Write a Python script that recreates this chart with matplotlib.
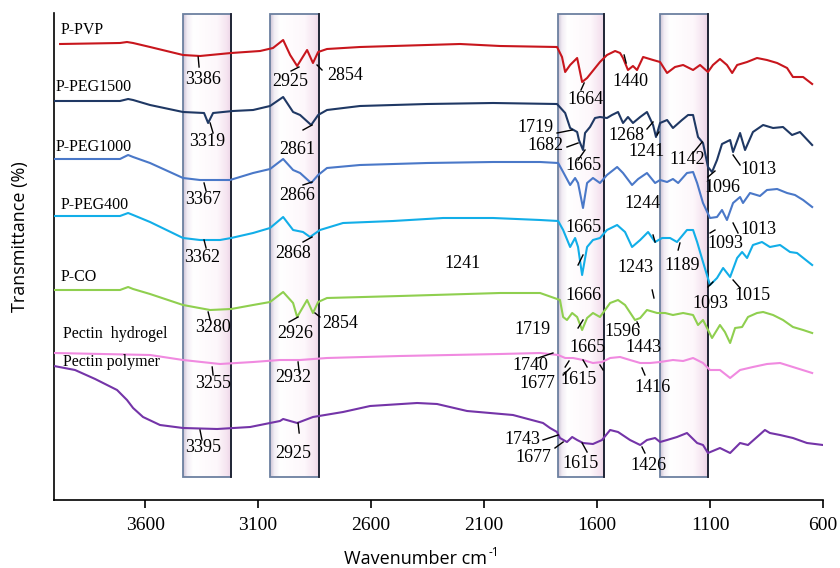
import numpy as np
import matplotlib
matplotlib.use("Agg")
import matplotlib.pyplot as plt
from matplotlib.colors import LinearSegmentedColormap
from matplotlib.patches import Rectangle

SERIF = 'Liberation Serif'
SANS = 'Open Sans'

# FTIR spectra (wavenumber cm-1, transmittance in arbitrary stacked units)
pvp_wn = [3976, 3711, 3680, 3653, 3578, 3432, 3357, 3219, 3091, 3034, 2989, 2958, 2927, 2883, 2857,
          2834, 2795, 2649, 2206, 2029, 1777, 1755, 1741, 1719, 1688, 1666, 1644, 1587, 1556, 1520,
          1498, 1485, 1463, 1441, 1423, 1396, 1352, 1321, 1290, 1255, 1219, 1175, 1144, 1109, 1087,
          1056, 1025, 1002, 980, 936, 892, 848, 803, 759, 733, 688, 648]
pvp_t = [456, 457, 458, 457, 453, 445, 444, 447, 449, 452, 460, 445, 434, 450, 437,
         448, 451, 453, 456, 454, 453, 443, 428, 435, 442, 418, 422, 438, 445, 449,
         447, 442, 430, 434, 430, 443, 440, 438, 427, 433, 435, 430, 435, 428, 435,
         441, 435, 427, 435, 438, 442, 440, 437, 432, 423, 423, 416]

peg1500_wn = [4003, 3711, 3675, 3653, 3578, 3432, 3339, 3321, 3299, 3211, 3122, 3047, 2989, 2945, 2914,
              2865, 2834, 2795, 2649, 2352, 2060, 1777, 1741, 1719, 1688, 1680, 1662, 1653, 1631, 1609,
              1587, 1556, 1534, 1507, 1485, 1463, 1441, 1409, 1379, 1352, 1339, 1321, 1290, 1264, 1224,
              1197, 1175, 1153, 1131, 1109, 1091, 1069, 1047, 1011, 998, 967, 945, 910, 865, 821,
              777, 737, 702, 648]
peg1500_t = [399, 399, 401, 400, 395, 388, 387, 377, 387, 389, 390, 394, 403, 388, 385,
             375, 385, 390, 394, 396, 397, 396, 387, 372, 368, 360, 350, 367, 373, 382,
             383, 382, 385, 388, 377, 383, 377, 383, 388, 375, 363, 377, 380, 372, 380,
             385, 385, 363, 357, 333, 328, 340, 356, 360, 348, 367, 350, 368, 375, 372,
             373, 365, 368, 355]

peg1000_wn = [4003, 3711, 3675, 3653, 3578, 3432, 3357, 3224, 3122, 3047, 2989, 2945, 2914, 2865, 2834,
              2795, 2649, 2352, 2060, 1852, 1772, 1750, 1719, 1697, 1684, 1662, 1644, 1618, 1587, 1556,
              1511, 1485, 1445, 1418, 1379, 1343, 1321, 1290, 1264, 1241, 1202, 1175, 1157, 1131, 1100,
              1069, 1047, 1025, 998, 967, 954, 923, 879, 848, 803, 759, 724, 688, 648]
peg1000_t = [341, 341, 345, 343, 337, 322, 320, 320, 327, 331, 341, 330, 327, 317, 325,
             332, 335, 337, 338, 338, 337, 328, 315, 322, 317, 292, 317, 322, 317, 325,
             333, 327, 315, 321, 327, 317, 320, 318, 321, 317, 327, 328, 317, 297, 282,
             283, 290, 280, 297, 303, 297, 307, 304, 310, 311, 307, 305, 300, 293]

peg400_wn = [4003, 3711, 3675, 3653, 3578, 3432, 3357, 3268, 3219, 3122, 3047, 2989, 2945, 2901, 2870,
             2826, 2724, 2503, 2281, 2060, 1852, 1772, 1750, 1719, 1697, 1684, 1666, 1644, 1618, 1587,
             1556, 1511, 1476, 1445, 1409, 1374, 1343, 1312, 1277, 1246, 1202, 1175, 1157, 1131, 1100,
             1069, 1042, 1011, 980, 958, 936, 910, 870, 835, 790, 746, 715, 648]
peg400_t = [284, 284, 287, 285, 278, 262, 260, 260, 262, 267, 272, 283, 270, 268, 263,
            270, 277, 279, 282, 282, 280, 279, 270, 253, 262, 253, 225, 253, 260, 262,
            270, 275, 268, 253, 260, 268, 258, 262, 262, 258, 270, 270, 258, 238, 215,
            222, 232, 223, 242, 248, 242, 255, 258, 253, 255, 248, 247, 235]

co_wn = [4003, 3711, 3675, 3653, 3578, 3432, 3312, 3219, 3122, 3047, 2989, 2945, 2927, 2883, 2857,
         2834, 2795, 2472, 2029, 1852, 1764, 1750, 1733, 1710, 1688, 1666, 1644, 1618, 1587, 1542,
         1507, 1476, 1432, 1409, 1379, 1334, 1299, 1264, 1219, 1175, 1153, 1131, 1091, 1056, 1034,
         1011, 989, 958, 932, 892, 865, 821, 777, 733, 688, 648]
co_t = [210, 210, 213, 211, 206, 195, 190, 191, 195, 198, 208, 197, 183, 200, 187,
        198, 202, 204, 207, 207, 200, 183, 180, 187, 183, 170, 182, 187, 183, 197,
        200, 195, 180, 182, 190, 187, 187, 185, 187, 185, 175, 180, 162, 175, 168,
        157, 172, 173, 183, 187, 188, 185, 180, 173, 170, 167]

hyd_wn = [4003, 3578, 3432, 3268, 3122, 3003, 2914, 2795, 2472, 2029, 1852, 1772, 1741, 1706, 1662,
          1618, 1578, 1542, 1498, 1454, 1409, 1365, 1321, 1264, 1219, 1175, 1131, 1100, 1056, 1011,
          967, 910, 848, 790, 733, 648]
hyd_t = [147, 145, 140, 136, 138, 140, 140, 142, 144, 146, 147, 145, 142, 142, 140,
         137, 138, 142, 143, 140, 137, 137, 138, 140, 139, 142, 137, 130, 130, 122,
         130, 133, 136, 137, 133, 127]

pol_wn = [4003, 3910, 3821, 3724, 3680, 3653, 3609, 3534, 3432, 3281, 3135, 3003, 2989, 2927, 2857,
          2724, 2604, 2396, 2308, 2175, 1972, 1839, 1808, 1777, 1764, 1733, 1710, 1688, 1662, 1618,
          1578, 1542, 1507, 1454, 1409, 1379, 1343, 1321, 1290, 1246, 1202, 1157, 1131, 1109, 1056,
          1011, 967, 932, 892, 857, 835, 790, 733, 671, 600]
pol_t = [134, 130, 121, 110, 100, 92, 83, 75, 72, 71, 73, 79, 81, 77, 83,
         88, 94, 97, 96, 89, 85, 77, 72, 68, 62, 58, 63, 60, 57, 56,
         60, 70, 68, 60, 55, 60, 62, 58, 60, 63, 67, 57, 55, 47, 52,
         47, 57, 55, 63, 70, 67, 65, 62, 57, 55]

series = [
    ('P-PVP', pvp_wn, pvp_t, '#c8161d', (3976, 470)),
    ('P-PEG1500', peg1500_wn, peg1500_t, '#1f3864', (3998, 413)),
    ('P-PEG1000', peg1000_wn, peg1000_t, '#4a78c8', (3998, 353)),
    ('P-PEG400', peg400_wn, peg400_t, '#12aee8', (3976, 295)),
    ('P-CO', co_wn, co_t, '#8fcf4f', (3976, 223)),
    ('Pectin  hydrogel', hyd_wn, hyd_t, '#f08ae0', (3963, 166)),
    ('Pectin polymer', pol_wn, pol_t, '#7434a8', (3963, 138)),
]

# highlighted bands (high, low wavenumber)
bands = [(3432, 3219), (3047, 2830), (1773, 1569), (1321, 1109)]

# peak labels: text, text position, leader line (w1, t1, w2, t2)
peaks = [
    ('3386', 3343, 421, (3365, 443, 3361, 433)),
    ('2925', 2958, 419, (2954, 429, 2919, 433)),
    ('2854', 2715, 424, (2839, 435, 2817, 430)),
    ('1664', 1653, 401, (1671, 410, 1657, 417)),
    ('1440', 1454, 419, (1480, 445, 1471, 437)),
    ('3319', 3326, 358, (3312, 377, 3299, 367)),
    ('2861', 2927, 350, (2901, 370, 2861, 375)),
    ('1719', 1874, 372, (1777, 367, 1710, 370)),
    ('1682', 1830, 355, (1733, 353, 1684, 357)),
    ('1665', 1662, 334, (1684, 340, 1653, 350)),
    ('1268', 1472, 364, (1379, 371, 1352, 378)),
    ('1241', 1379, 348, (1334, 365, 1326, 368)),
    ('1142', 1202, 341, (1175, 347, 1135, 358)),
    ('1096', 1047, 312, (1109, 323, 1078, 329)),
    ('1013', 887, 331, (998, 345, 967, 335)),
    ('3367', 3343, 300, (3339, 317, 3330, 309)),
    ('2866', 2927, 304, (2901, 315, 2861, 318)),
    ('1244', 1401, 297, None),
    ('1093', 1034, 257, (1100, 267, 1078, 270)),
    ('1013', 887, 270, (998, 277, 976, 267)),
    ('3362', 3348, 242, (3339, 260, 3330, 252)),
    ('2868', 2945, 247, (2901, 258, 2861, 263)),
    ('1665', 1662, 272, (1684, 235, 1662, 245)),
    ('1243', 1432, 233, (1352, 265, 1343, 258)),
    ('1189', 1224, 235, (1241, 250, 1233, 257)),
    ('1093', 1100, 197, (1109, 213, 1087, 218)),
    ('1015', 910, 205, (998, 220, 967, 212)),
    ('1241', 2197, 237, (1356, 210, 1348, 202)),
    ('3280', 3299, 172, (3321, 188, 3312, 180)),
    ('2926', 2936, 167, (2963, 178, 2923, 183)),
    ('2854', 2737, 177, (2848, 187, 2826, 183)),
    ('1666', 1662, 205, (1684, 172, 1662, 180)),
    ('1596', 1489, 168, (1423, 178, 1414, 173)),
    ('1443', 1396, 152, (1587, 135, 1573, 130)),
    ('1719', 1887, 171, None),
    ('1665', 1644, 153, (1662, 140, 1644, 133)),
    ('3255', 3299, 117, (3303, 133, 3299, 125)),
    ('2932', 2945, 123, (2923, 138, 2918, 128)),
    ('1740', 1896, 134, (1861, 142, 1795, 147)),
    ('1677', 1865, 117, (1750, 125, 1719, 132)),
    ('1615', 1684, 120, (1741, 133, 1724, 139)),
    ('1416', 1356, 112, (1401, 132, 1388, 125)),
    ('3395', 3343, 52, (3357, 70, 3348, 60)),
    ('2925', 2945, 47, (2923, 77, 2918, 67)),
    ('1743', 1932, 61, (1839, 60, 1772, 65)),
    ('1677', 1883, 42, (1786, 52, 1750, 58)),
    ('1615', 1675, 37, (1666, 57, 1644, 48)),
    ('1426', 1374, 34, (1401, 53, 1388, 47)),
]

xticks = [3600, 3100, 2600, 2100, 1600, 1100, 600]

fig = plt.figure(figsize=(8.4, 5.68), dpi=100)
ax = fig.add_axes([54 / 840, 1 - 500 / 568, (823 - 54) / 840, (500 - 13) / 568])

# bevelled highlight boxes
bevel = LinearSegmentedColormap.from_list('bevel', [(0, '#cdc4d6'), (0.08, '#f2edf4'), (0.2, '#ffffff'),
                                                    (0.7, '#fdf7fb'), (0.9, '#f5e4f0'), (1, '#ebd3e5')])
grad = np.linspace(0, 1, 64).reshape(1, -1)
for hi, lo in bands:
    ax.imshow(grad, cmap=bevel, extent=(hi, lo, 23, 486), aspect='auto', zorder=1)
    ax.add_patch(Rectangle((lo, 23), hi - lo, 463, fill=False, edgecolor='#6c80a0', lw=1.3, zorder=2))
    ax.plot([lo, lo], [23, 486], color='#1c1f2e', lw=1.3, zorder=2)

for name, wn, t, col, (lx, ly) in series:
    ax.plot(wn, t, color=col, lw=1.5, zorder=3)
    ax.text(lx, ly, name, family=SERIF, fontsize=11.5, ha='left', va='center', zorder=4)

for lab, tx, ty, seg in peaks:
    ax.text(tx, ty, lab, family=SERIF, fontsize=13, ha='center', va='center', zorder=4)
    if seg is not None:
        ax.plot([seg[0], seg[2]], [seg[1], seg[3]], color='black', lw=1, zorder=4)

ax.set_xlim(4003, 600)
ax.set_ylim(0, 487)
ax.spines['top'].set_visible(False)
ax.spines['right'].set_visible(False)
ax.spines['left'].set_linewidth(1.2)
ax.spines['bottom'].set_linewidth(1.2)
ax.set_yticks([])
ax.set_xticks(xticks)
ax.set_xticklabels([str(v) for v in xticks], family=SERIF, fontsize=14)
ax.tick_params(axis='x', direction='out', length=6, width=1.2, pad=6)

fig.text(487 / 840, 1 - 559 / 568, 'Wavenumber cm', family=SANS, fontsize=13, ha='right', va='center')
fig.text(489 / 840, 1 - 552 / 568, '-1', family=SANS, fontsize=8.5, ha='left', va='center')
fig.text(20 / 840, 1 - 237 / 568, 'Transmittance (%)', family=SANS, fontsize=13, ha='center', va='center',
         rotation=90)

fig.savefig('out.png', dpi=100)
